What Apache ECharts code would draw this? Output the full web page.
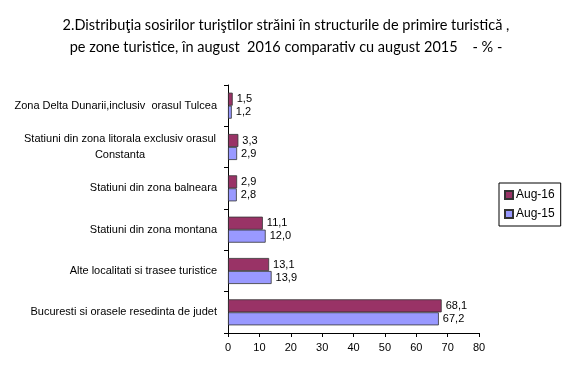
<!DOCTYPE html>
<html><head><meta charset="utf-8">
<script src="https://cdn.jsdelivr.net/npm/echarts@6/dist/echarts.min.js"></script>
<style>html,body{margin:0;padding:0;background:#fff}#c{width:570px;height:371px}</style>
</head><body><div id="c"></div>
<script>
// categories listed bottom to top
const categories = [
  "Bucuresti si orasele resedinta de judet",
  "Alte localitati si trasee turistice",
  "Statiuni din zona montana",
  "Statiuni din zona balneara",
  "Statiuni din zona litorala exclusiv orasul\nConstanta",
  "Zona Delta Dunarii,inclusiv  orasul Tulcea"
];
const aug16 = [68.1, 13.1, 11.1, 2.9, 3.3, 1.5];
const aug15 = [67.2, 13.9, 12.0, 2.8, 2.9, 1.2];
const seriesNames = ["Aug-16", "Aug-15"];
const xTicks = [0, 10, 20, 30, 40, 50, 60, 70, 80];

const chart = echarts.init(document.getElementById('c'));
const fmt = v => v.toFixed(1).replace('.', ',');
const labelFont = 'Liberation Sans, Arial, sans-serif';
chart.setOption({
  animation: false,
  title: {
    text: "2.Distribuţia sosirilor turiştilor străini în structurile de primire turistică ,\npe zone turistice, în august  2016 comparativ cu august 2015    - % -",
    left: 281, top: 9, textAlign: 'center',
    textStyle: { fontFamily: 'Lato, sans-serif', fontSize: 14.5, fontWeight: 'normal', color: '#000', lineHeight: 22 }
  },
  legend: {
    orient: 'vertical', left: 499, top: 183, width: 56,
    data: seriesNames,
    itemWidth: 8, itemHeight: 8, itemGap: 7,
    padding: [6, 6, 6, 5],
    borderColor: '#000', borderWidth: 1,
    textStyle: { fontFamily: labelFont, fontSize: 12, color: '#000', padding: [0, 0, 0, -2] },
    icon: 'rect'
  },
  grid: { left: 228, right: 91, top: 85, bottom: 38, containLabel: false },
  xAxis: {
    type: 'value', min: xTicks[0], max: xTicks[xTicks.length - 1], interval: 10,
    splitLine: { show: false },
    axisLine: { show: true, lineStyle: { color: '#000', width: 1 } },
    axisTick: { show: true, length: 4, lineStyle: { color: '#000' } },
    axisLabel: { fontFamily: labelFont, fontSize: 11, color: '#000', margin: 9 }
  },
  yAxis: {
    type: 'category', data: categories,
    axisLine: { show: true, lineStyle: { color: '#000', width: 1 } },
    axisTick: { show: true, length: 4, lineStyle: { color: '#000' } },
    axisLabel: {
      fontFamily: labelFont, fontSize: 11, color: '#000', margin: 11, lineHeight: 16,
      formatter: function (v) {
        if (v.indexOf('\n') >= 0) {
          const p = v.split('\n');
          return '{c|' + p[0] + '}\n{c|' + p[1] + '}';
        }
        return v;
      },
      rich: { c: { width: 194, align: 'center', fontFamily: labelFont, fontSize: 11, color: '#000', lineHeight: 16 } }
    }
  },
  series: [
    {
      name: seriesNames[0], type: 'bar', data: aug16, barWidth: 13, barGap: '0%',
      itemStyle: { color: '#993366', borderColor: '#333', borderWidth: 0.8 },
      label: { show: true, position: 'right', distance: 4, formatter: p => fmt(p.value),
        fontFamily: labelFont, fontSize: 11, color: '#000' }
    },
    {
      name: seriesNames[1], type: 'bar', data: aug15, barWidth: 13, barGap: '0%',
      itemStyle: { color: '#9999FF', borderColor: '#333', borderWidth: 0.8 },
      label: { show: true, position: 'right', distance: 4, formatter: p => fmt(p.value),
        fontFamily: labelFont, fontSize: 11, color: '#000' }
    }
  ]
});
</script></body></html>
